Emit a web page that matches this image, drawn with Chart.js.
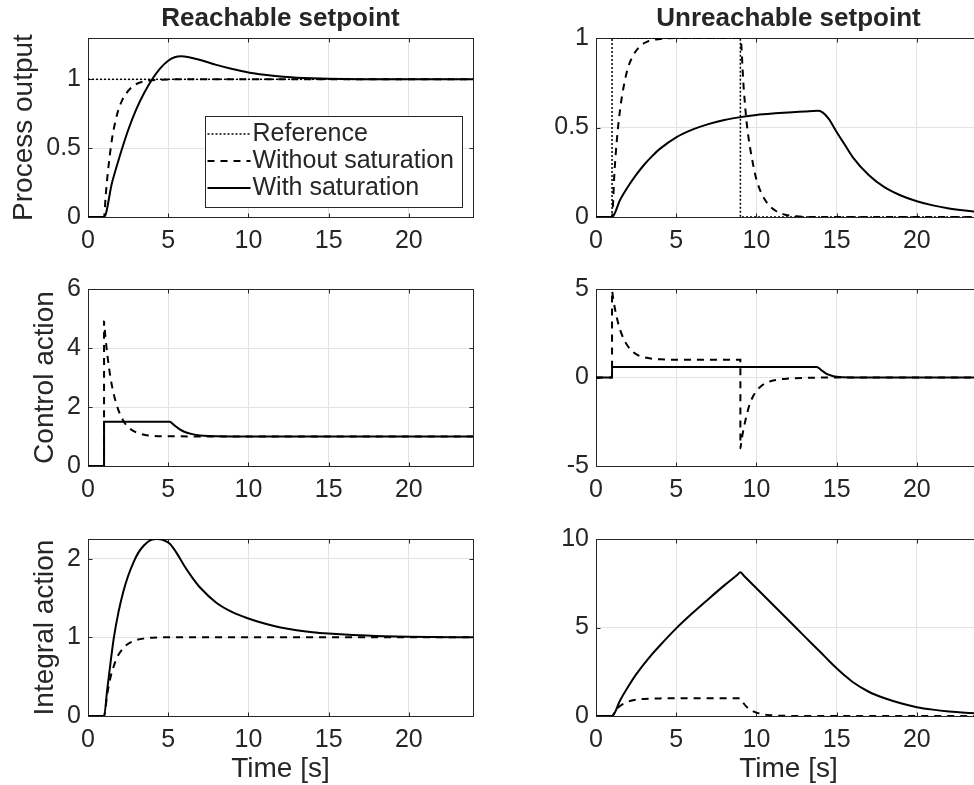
<!DOCTYPE html>
<html>
<head>
<meta charset="utf-8">
<title>Setpoint responses</title>
<script src="https://cdn.jsdelivr.net/npm/chart.js@4.4.0/dist/chart.umd.min.js"></script>
<style>
  html, body { margin: 0; padding: 0; background: #fff; overflow: hidden; }
  body { width: 974px; height: 785px; position: relative; }
  canvas { position: absolute; }
</style>
</head>
<body>
<canvas id="p1"></canvas>
<canvas id="p2"></canvas>
<canvas id="p3"></canvas>
<canvas id="p4"></canvas>
<canvas id="p5"></canvas>
<canvas id="p6"></canvas>
<script>
// ---- Reachable setpoint (left column) ----
const tRefA = [0, 24];
const refA = [1, 1];

const tOutNoSatA = [0, 1, 1.1, 1.2, 1.35, 1.5, 1.7, 1.9, 2.1, 2.4, 2.8, 3.2, 3.8, 4.5, 6, 24];
const outNoSatA = [0, 0, 0.15, 0.28, 0.44, 0.57, 0.69, 0.78, 0.84, 0.9, 0.95, 0.975, 0.99, 0.997, 1, 1];

const tOutSatA = [0, 1, 1.5, 2, 2.5, 3, 3.5, 4, 4.5, 5, 5.4, 5.8, 6.3, 7, 8, 9, 10, 11, 12, 13, 14, 15, 17, 20, 24];
const outSatA = [0, 0, 0.25, 0.45, 0.63, 0.78, 0.9, 1.0, 1.08, 1.135, 1.16, 1.167, 1.16, 1.14, 1.105, 1.075, 1.05, 1.033, 1.02, 1.012, 1.007, 1.004, 1.001, 1, 1];

const tCtlNoSatA = [0, 1, 1.001, 1.05, 1.1, 1.2, 1.4, 1.6, 1.8, 2.0, 2.3, 2.6, 3.0, 3.5, 4, 5, 24];
const ctlNoSatA = [0, 0, 4.9, 4.6, 4.3, 3.8, 3.0, 2.45, 2.05, 1.75, 1.45, 1.27, 1.14, 1.06, 1.025, 1.005, 1];

const tCtlSatA = [0, 1, 1.001, 5.1, 5.3, 5.5, 5.75, 6, 6.5, 7, 7.5, 8, 9, 24];
const ctlSatA = [0, 0, 1.5, 1.5, 1.42, 1.33, 1.23, 1.16, 1.08, 1.035, 1.015, 1.007, 1.002, 1];

const tIntNoSatA = [0, 1, 1.2, 1.4, 1.6, 1.8, 2.0, 2.3, 2.6, 3.0, 3.5, 4, 5, 24];
const intNoSatA = [0, 0, 0.28, 0.49, 0.63, 0.74, 0.81, 0.885, 0.93, 0.965, 0.985, 0.995, 1, 1];

const tIntSatA = [0, 1, 1.2, 1.4, 1.6, 1.9, 2.2, 2.5, 2.85, 3.15, 3.5, 3.9, 4.3, 4.7, 5.1, 5.5, 6, 6.5, 7, 8, 9, 10, 11, 12, 13, 14, 15, 16.5, 18.5, 20, 24];
const intSatA = [0, 0, 0.34, 0.67, 0.98, 1.32, 1.58, 1.78, 1.96, 2.08, 2.17, 2.235, 2.25, 2.235, 2.19, 2.08, 1.91, 1.76, 1.63, 1.44, 1.32, 1.24, 1.175, 1.125, 1.09, 1.065, 1.048, 1.03, 1.015, 1.008, 1.0];

// ---- Unreachable setpoint (right column) ----
const tRefB = [0, 1, 1.001, 9, 9.001, 24];
const refB = [0, 0, 1, 1, 0, 0];

const tOutNoSatB = [0, 1, 1.15, 1.3, 1.5, 1.75, 2, 2.3, 2.7, 3.2, 4, 5, 9, 9.2, 9.4, 9.6, 9.8, 10, 10.3, 10.7, 11.2, 11.8, 12.5, 14, 24];
const outNoSatB = [0, 0, 0.25, 0.43, 0.6, 0.74, 0.835, 0.9, 0.95, 0.98, 0.995, 1, 1, 0.73, 0.52, 0.39, 0.29, 0.21, 0.135, 0.075, 0.035, 0.013, 0.004, 0, 0];

const tOutSatB = [0, 1, 1.5, 2, 2.5, 3, 3.5, 4, 5, 6, 7, 8, 9, 10, 11, 12, 13, 13.8, 14.1, 14.5, 15, 15.5, 16, 17, 18, 19, 20, 21, 22, 23, 24];
const outSatB = [0, 0, 0.095, 0.17, 0.235, 0.292, 0.34, 0.382, 0.445, 0.488, 0.519, 0.542, 0.558, 0.57, 0.578, 0.584, 0.589, 0.593, 0.586, 0.55, 0.475, 0.405, 0.335, 0.235, 0.165, 0.12, 0.088, 0.065, 0.048, 0.036, 0.027];

const tCtlNoSatB = [0, 1, 1.001, 1.05, 1.1, 1.2, 1.4, 1.6, 1.8, 2.0, 2.3, 2.6, 3.0, 3.5, 4, 5, 9, 9.001, 9.05, 9.1, 9.2, 9.4, 9.6, 9.8, 10, 10.3, 10.7, 11.2, 12, 13, 14, 15, 24];
const ctlNoSatB = [0, 0, 4.9, 4.6, 4.3, 3.8, 3.0, 2.45, 2.05, 1.75, 1.45, 1.27, 1.14, 1.06, 1.025, 1.005, 1, -4.0, -3.7, -3.4, -2.9, -2.1, -1.45, -1.05, -0.76, -0.48, -0.27, -0.14, -0.06, -0.02, -0.005, 0, 0];

const tCtlSatB = [0, 1, 1.001, 13.75, 13.9, 14.1, 14.3, 14.5, 14.8, 15.2, 16, 24];
const ctlSatB = [0, 0, 0.6, 0.6, 0.53, 0.38, 0.25, 0.16, 0.075, 0.025, 0.005, 0];

const tIntNoSatB = [0, 1, 1.2, 1.4, 1.6, 1.8, 2.0, 2.3, 2.6, 3.0, 3.5, 4, 5, 9, 9.2, 9.4, 9.6, 9.8, 10, 10.3, 10.7, 11.2, 12, 13, 24];
const intNoSatB = [0, 0, 0.28, 0.49, 0.63, 0.74, 0.81, 0.885, 0.93, 0.965, 0.985, 0.995, 1, 1, 0.72, 0.51, 0.37, 0.26, 0.19, 0.11, 0.06, 0.025, 0.008, 0, 0];

const tIntSatB = [0, 1, 1.5, 2, 2.5, 3, 3.5, 4, 5, 6, 7, 8, 8.8, 9, 9.2, 10, 11, 12, 13, 14, 14.5, 15, 15.5, 16, 17, 18, 19, 20, 21, 22, 23, 24];
const intSatB = [0, 0, 0.88, 1.65, 2.35, 2.95, 3.5, 4.0, 4.95, 5.8, 6.6, 7.38, 7.97, 8.12, 7.94, 7.22, 6.31, 5.41, 4.5, 3.6, 3.14, 2.7, 2.29, 1.92, 1.37, 1.0, 0.72, 0.5, 0.36, 0.26, 0.19, 0.14];

const labels = ["Reference", "Without saturation", "With saturation"];

Chart.defaults.font.family = "'Liberation Sans', Arial, Helvetica, sans-serif";
Chart.defaults.color = "#262626";

function xy(t, v) {
  return t.map((x, i) => ({ x: x, y: v[i] }));
}

function refSet(t, v) {
  return { label: labels[0], data: xy(t, v), borderColor: "#000", borderWidth: 1.5,
    borderDash: [2, 2], tension: 0, pointRadius: 0, order: 3 };
}
function noSatSet(t, v) {
  return { label: labels[1], data: xy(t, v), borderColor: "#000", borderWidth: 2,
    borderDash: [7, 6], cubicInterpolationMode: "monotone", pointRadius: 0, order: 2 };
}
function satSet(t, v) {
  return { label: labels[2], data: xy(t, v), borderColor: "#000", borderWidth: 2,
    borderDash: [], cubicInterpolationMode: "monotone", pointRadius: 0, order: 1 };
}

// tick labels like "0.5", "1", "-5"
function plainTick(value) {
  return String(Number(value.toFixed(3)));
}

// axes box with inner tick marks, like the original figure
const axesBox = {
  id: "axesBox",
  beforeDatasetsDraw(chart) {
    const ctx = chart.ctx;
    const a = chart.chartArea;
    const xs = chart.scales.x, ys = chart.scales.y;
    const L = Math.round(a.left) + 0.5, R = Math.round(a.right) + 0.5;
    const T = Math.round(a.top) + 0.5, B = Math.round(a.bottom) + 0.5;
    ctx.save();
    ctx.strokeStyle = "#262626";
    ctx.lineWidth = 1;
    ctx.beginPath();
    xs.ticks.forEach((tk) => {
      const px = Math.round(xs.getPixelForValue(tk.value)) + 0.5;
      ctx.moveTo(px, B); ctx.lineTo(px, B - 4);
      ctx.moveTo(px, T); ctx.lineTo(px, T + 4);
    });
    ys.ticks.forEach((tk) => {
      const py = Math.round(ys.getPixelForValue(tk.value)) + 0.5;
      ctx.moveTo(L, py); ctx.lineTo(L + 4, py);
      ctx.moveTo(R, py); ctx.lineTo(R - 4, py);
    });
    ctx.stroke();
    ctx.strokeRect(L, T, R - L, B - T);
    ctx.restore();
  }
};

// legend drawn inside the plot area (bottom right)
const boxLegend = {
  id: "boxLegend",
  afterDatasetsDraw(chart) {
    const ctx = chart.ctx;
    const a = chart.chartArea;
    const sets = chart.data.datasets;
    ctx.save();
    ctx.font = "25px 'Liberation Sans', Arial, sans-serif";
    const textW = Math.max(...sets.map((d) => ctx.measureText(d.label).width));
    const w = Math.round(2 + 43 + 2 + textW + 9), h = 91;
    const x0 = Math.round(a.right - 11 - w) + 0.5;
    const y0 = Math.round(a.bottom - 10 - h) + 0.5;
    ctx.fillStyle = "#fff";
    ctx.fillRect(x0, y0, w, h);
    ctx.strokeStyle = "#262626";
    ctx.lineWidth = 1;
    ctx.strokeRect(x0, y0, w, h);
    sets.forEach((d, i) => {
      const yc = y0 + 17.5 + 27 * i;
      ctx.beginPath();
      ctx.setLineDash(d.borderDash || []);
      ctx.lineWidth = d.borderWidth;
      ctx.strokeStyle = d.borderColor;
      ctx.moveTo(x0 + 2, yc);
      ctx.lineTo(x0 + 45, yc);
      ctx.stroke();
      ctx.setLineDash([]);
      ctx.fillStyle = "#262626";
      ctx.textBaseline = "middle";
      ctx.textAlign = "left";
      ctx.fillText(d.label, x0 + 47, yc);
    });
    ctx.restore();
  }
};

function makePanel(p) {
  const cv = document.getElementById(p.id);
  cv.width = p.w;
  cv.height = p.h;
  cv.style.left = p.left + "px";
  cv.style.top = p.top + "px";
  const plugins = [axesBox];
  if (p.legend) plugins.push(boxLegend);
  return new Chart(cv.getContext("2d"), {
    type: "line",
    data: { datasets: p.sets },
    plugins: plugins,
    options: {
      responsive: false,
      animation: false,
      events: [],
      layout: { padding: { top: p.padTop, right: 14, bottom: 0, left: 0 } },
      plugins: {
        legend: { display: false },
        tooltip: { enabled: false },
        title: {
          display: !!p.title,
          text: p.title || "",
          fullSize: false,
          color: "#262626",
          font: { size: 26, weight: "bold", lineHeight: 30 / 26 },
          padding: { top: 4, bottom: 4 }
        }
      },
      scales: {
        x: {
          type: "linear",
          min: 0,
          max: 24,
          afterFit: (s) => { s.height = p.xH; },
          grid: { color: "#e3e3e3", drawTicks: false },
          border: { display: false },
          ticks: { stepSize: 5, includeBounds: false, padding: 9, maxRotation: 0, autoSkip: false,
            font: { size: 25 }, callback: plainTick },
          title: {
            display: !!p.xTitle,
            text: p.xTitle || "",
            font: { size: 28, lineHeight: 1.2 },
            padding: { top: 0, bottom: 0 }
          }
        },
        y: {
          type: "linear",
          min: p.yMin,
          max: p.yMax,
          afterFit: (s) => { s.width = p.yW; },
          grid: { color: "#e3e3e3", drawTicks: false },
          border: { display: false },
          ticks: { stepSize: p.yStep, includeBounds: false, padding: 7,
            font: { size: 25 }, callback: plainTick },
          title: {
            display: !!p.yTitle,
            text: p.yTitle || "",
            font: { size: 28, lineHeight: 1.2 },
            padding: { top: p.yTitlePad || 0, bottom: 0 }
          }
        }
      }
    }
  });
}

makePanel({ id: "p1", left: 0, top: 0, w: 487, h: 257, yW: 88, padTop: 0, xH: 40,
  title: "Reachable setpoint", yTitle: "Process output", yTitlePad: 7,
  yMin: 0, yMax: 1.3, yStep: 0.5, legend: true,
  sets: [refSet(tRefA, refA), noSatSet(tOutNoSatA, outNoSatA), satSet(tOutSatA, outSatA)] });

makePanel({ id: "p2", left: 487, top: 0, w: 508, h: 257, yW: 109, padTop: 0, xH: 40,
  title: "Unreachable setpoint", yMin: 0, yMax: 1, yStep: 0.5,
  sets: [refSet(tRefB, refB), noSatSet(tOutNoSatB, outNoSatB), satSet(tOutSatB, outSatB)] });

makePanel({ id: "p3", left: 0, top: 267, w: 487, h: 239, yW: 88, padTop: 20, xH: 40,
  yTitle: "Control action", yTitlePad: 28, yMin: 0, yMax: 6, yStep: 2,
  sets: [noSatSet(tCtlNoSatA, ctlNoSatA), satSet(tCtlSatA, ctlSatA)] });

makePanel({ id: "p4", left: 487, top: 267, w: 508, h: 239, yW: 109, padTop: 20, xH: 40,
  yMin: -5, yMax: 5, yStep: 5,
  sets: [noSatSet(tCtlNoSatB, ctlNoSatB), satSet(tCtlSatB, ctlSatB)] });

makePanel({ id: "p5", left: 0, top: 517, w: 487, h: 269, yW: 88, padTop: 20, xH: 70,
  xTitle: "Time [s]", yTitle: "Integral action", yTitlePad: 28, yMin: 0, yMax: 2.25, yStep: 1,
  sets: [noSatSet(tIntNoSatA, intNoSatA), satSet(tIntSatA, intSatA)] });

makePanel({ id: "p6", left: 487, top: 517, w: 508, h: 269, yW: 109, padTop: 20, xH: 70,
  xTitle: "Time [s]", yMin: 0, yMax: 10, yStep: 5,
  sets: [noSatSet(tIntNoSatB, intNoSatB), satSet(tIntSatB, intSatB)] });
</script>
</body>
</html>
